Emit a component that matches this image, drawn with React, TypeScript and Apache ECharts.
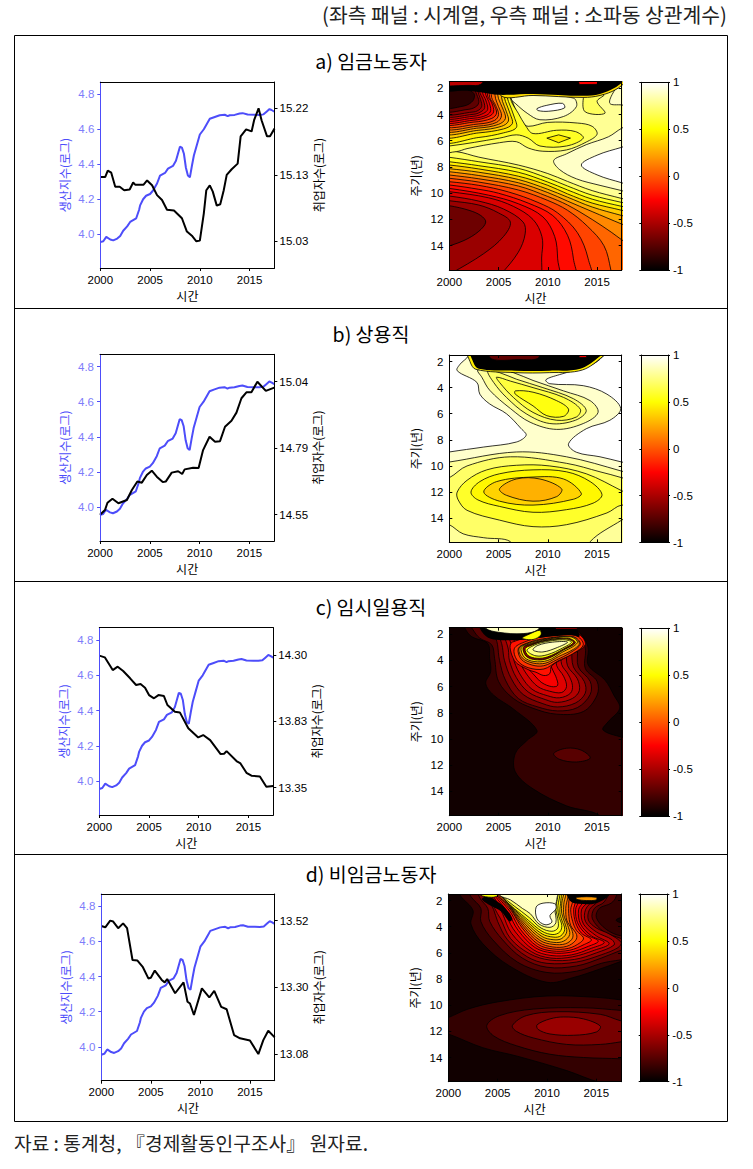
import React, { useEffect, useRef } from "react";
import * as echarts from "echarts";

type Pt = [number, number];
type Layer = [number, Pt[]];

const FONT = '"Liberation Sans","Noto Sans CJK KR",sans-serif';
const KR = '"Noto Sans CJK KR",sans-serif';

const outputPts: Pt[] = [[2000,3.955],[2000.3,3.96],[2000.6,3.985],[2001,3.97],[2001.3,3.965],[2001.7,3.975],[2002,3.99],[2002.3,4.02],[2002.7,4.045],[2003,4.07],[2003.3,4.08],[2003.6,4.09],[2003.9,4.14],[2004,4.165],[2004.3,4.2],[2004.6,4.22],[2005,4.23],[2005.3,4.25],[2005.7,4.29],[2006,4.335],[2006.5,4.35],[2006.8,4.375],[2007.3,4.39],[2007.6,4.42],[2007.8,4.46],[2008,4.5],[2008.2,4.495],[2008.4,4.46],[2008.6,4.38],[2008.8,4.335],[2009,4.325],[2009.2,4.39],[2009.4,4.45],[2009.7,4.51],[2010,4.57],[2010.4,4.6],[2010.8,4.64],[2011,4.66],[2011.5,4.67],[2012,4.68],[2012.5,4.683],[2012.8,4.675],[2013,4.68],[2013.5,4.682],[2014,4.69],[2014.3,4.692],[2014.8,4.684],[2015.5,4.683],[2016,4.682],[2016.4,4.685],[2016.7,4.7],[2017,4.715],[2017.2,4.71],[2017.5,4.7]];
const empA: Pt[] = [[2000,15.122],[2000.5,15.122],[2000.75,15.131],[2001.1,15.128],[2001.5,15.108],[2001.95,15.108],[2002.4,15.103],[2002.95,15.104],[2003.3,15.114],[2003.5,15.111],[2004.35,15.111],[2004.7,15.117],[2005.2,15.11],[2005.7,15.096],[2006.2,15.089],[2006.7,15.075],[2007.4,15.074],[2008.2,15.063],[2008.7,15.044],[2009.2,15.038],[2009.65,15.03],[2010,15.031],[2010.4,15.07],[2010.65,15.103],[2011,15.11],[2011.3,15.101],[2011.7,15.081],[2012.05,15.083],[2012.4,15.103],[2012.7,15.125],[2013.2,15.133],[2013.8,15.141],[2014.1,15.18],[2014.65,15.19],[2015.2,15.187],[2015.45,15.203],[2015.9,15.22],[2016.2,15.203],[2016.75,15.18],[2017.05,15.18],[2017.5,15.191]];
const empB: Pt[] = [[2000,14.55],[2000.5,14.567],[2000.75,14.594],[2001.25,14.609],[2001.85,14.592],[2002.7,14.604],[2003.2,14.641],[2003.75,14.672],[2004.2,14.668],[2004.7,14.696],[2005.2,14.712],[2005.7,14.69],[2006.3,14.67],[2006.6,14.672],[2007.2,14.705],[2007.85,14.71],[2008.25,14.7],[2008.5,14.717],[2009.35,14.723],[2009.9,14.722],[2010.35,14.788],[2011,14.837],[2011.55,14.819],[2012.05,14.821],[2012.55,14.874],[2013.2,14.896],[2013.7,14.926],[2014.2,14.979],[2014.7,15.001],[2015.2,15.001],[2015.8,15.04],[2016.65,15.006],[2017.5,15.018]];
const empC: Pt[] = [[2000,14.295],[2000.55,14.283],[2001.35,14.192],[2001.85,14.216],[2002.4,14.185],[2003.1,14.133],[2003.7,14.085],[2004.15,14.092],[2004.6,14.066],[2005,14.013],[2005.5,13.99],[2005.95,14.013],[2006.5,14.006],[2006.85,13.942],[2007.6,13.894],[2008.1,13.889],[2008.95,13.775],[2009.95,13.71],[2010.45,13.727],[2011.15,13.691],[2012.2,13.591],[2012.55,13.593],[2012.8,13.612],[2013.8,13.541],[2014.2,13.524],[2014.8,13.457],[2015.3,13.436],[2016.15,13.431],[2016.8,13.357],[2017.5,13.362]];
const empD: Pt[] = [[2000,13.502],[2000.4,13.498],[2000.9,13.52],[2001.2,13.517],[2001.7,13.495],[2002.2,13.511],[2002.6,13.495],[2003.15,13.39],[2003.65,13.388],[2004.2,13.366],[2004.75,13.329],[2005,13.331],[2005.4,13.355],[2006.1,13.324],[2006.4,13.316],[2006.65,13.327],[2007.45,13.28],[2008.3,13.316],[2008.7,13.252],[2008.95,13.246],[2009.35,13.208],[2010.15,13.296],[2010.9,13.266],[2011.4,13.288],[2012.1,13.235],[2012.65,13.227],[2013.4,13.142],[2014,13.131],[2015,13.124],[2015.85,13.079],[2016.35,13.125],[2016.85,13.156],[2017.5,13.134]];

const outputTicks = [4, 4.2, 4.4, 4.6, 4.8];
const yearTicks = [2000, 2005, 2010, 2015];
const periodTicks = [2, 4, 6, 8, 10, 12, 14];
const barTicks = [-1, -0.5, 0, 0.5, 1];
const empTicksA = [15.03, 15.125, 15.22]; const empLabelsA = ["15.03", "15.13", "15.22"];
const empTicksB = [14.55, 14.795, 15.04]; const empLabelsB = ["14.55", "14.79", "15.04"];
const empTicksC = [13.35, 13.825, 14.3]; const empLabelsC = ["13.35", "13.83", "14.30"];
const empTicksD = [13.08, 13.3, 13.52]; const empLabelsD = ["13.08", "13.30", "13.52"];

const all: Pt[] = [[1998,1],[2019,1],[2019,17],[1998,17]];

const contoursA: Layer[] = [
  [0.79, all],
  [0.89, [[2019,4.6],[2017.5,5.05],[2016.15,5.7],[2013.9,6.3],[2011.9,7],[2010.6,7.5],[2011.2,8.2],[2012.9,8.9],[2015.3,9.4],[2017.5,9.8],[2019,10.1]]],
  [1, [[2019,6.2],[2017.5,6.5],[2015,7.1],[2013.4,7.85],[2015,8.6],[2017.5,9.2],[2019,9.5]]],
  [0.89, [[2006.2,2.75],[2008.5,2.5],[2012.6,2.75],[2012.9,3.4],[2011.6,4.15],[2009.2,4.4],[2007.9,3.9],[2006.7,3.15]]],
  [1, [[2008.9,3.55],[2009.9,3.3],[2011.5,3.15],[2011.7,3.5],[2010.1,3.75],[2009,3.7]]],
  [0.89, [[2019,3.4],[2017.5,3.27],[2016.3,3.15],[2016.7,2.25],[2017.5,1.6],[2019,1.2]]],
  [0.68, [[2013.6,2.8],[2013.8,3.8],[2015.8,3.9],[2015,3],[2015.7,2.5],[2014,2.4]]],
  [0.68, [[1998,6.83],[2000.7,6.83],[2003,7.25],[2007,7.85],[2010,8.5],[2012,9.1],[2014.5,9.8],[2017.5,10.4],[2019,10.7],[2019,17],[1998,17]]],
  [0.56, [[1998,7.1],[2000,7.26],[2003,7.6],[2007,8.1],[2010,8.85],[2012,9.45],[2014.5,10.15],[2017.5,10.7],[2019,10.95],[2019,17],[1998,17]]],
  [0.45, [[1998,7.45],[2000,7.6],[2003,7.9],[2007,8.4],[2010,9.15],[2012,9.75],[2014.5,10.45],[2017.5,11],[2019,11.25],[2019,17],[1998,17]]],
  [0.35, [[1998,7.75],[2000,7.85],[2003,8.15],[2007,8.7],[2010,9.4],[2012,10.05],[2014.5,10.75],[2017.5,11.3],[2019,11.6],[2019,17],[1998,17]]],
  [0.25, [[1998,8],[2000,8.13],[2003,8.4],[2007,8.95],[2010,9.7],[2012,10.3],[2014.5,11.05],[2017.5,11.7],[2019,12],[2019,17],[1998,17]]],
  [0.15, [[1998,8.2],[2000,8.36],[2003,8.65],[2007,9.2],[2010,9.95],[2012,10.6],[2014.5,11.4],[2017.5,12.35],[2019,12.8],[2019,17],[1998,17]]],
  [0.05, [[1998,8.45],[2000,8.61],[2003,8.9],[2007,9.45],[2010,10.25],[2012,10.9],[2014.5,12],[2016.5,13],[2017.5,13.55],[2019,14.3],[2019,17],[1998,17]]],
  [-0.05, [[1998,8.7],[2000,8.86],[2003,9.15],[2007,9.75],[2010,10.55],[2012,11.3],[2014,12.5],[2015.7,14],[2016.4,15.85],[2016.6,17],[1998,17]]],
  [-0.15, [[1998,9],[2000,9.12],[2003,9.4],[2006,9.9],[2009,10.7],[2011,11.5],[2013,13],[2014.1,15],[2014.3,17],[1998,17]]],
  [-0.22, [[1998,9.25],[2000,9.37],[2003,9.7],[2005,10],[2008,10.75],[2010.5,11.7],[2012,13.2],[2012.6,15],[2012.7,17],[1998,17]]],
  [-0.3, [[1998,9.5],[2000,9.63],[2004,10.15],[2007,10.8],[2009.5,11.8],[2010.7,13.3],[2011,15],[2011,17],[1998,17]]],
  [-0.36, [[1998,9.75],[2000,9.88],[2004,10.35],[2006.5,11],[2008.5,12],[2009.4,13.3],[2009.4,14.6],[2008.8,17],[1998,17]]],
  [-0.45, [[1998,10.05],[2000,10.21],[2003,10.6],[2005.5,11.2],[2007.5,12.2],[2007.7,13.1],[2007,14.5],[2005.2,16.2],[2004,17],[1998,17]]],
  [-0.55, [[1998,10.4],[2000,10.57],[2003,10.9],[2005,11.5],[2006.2,12.2],[2005.5,13.3],[2003.5,14.6],[2000.2,16.1],[1998,17]]],
  [-0.68, [[1998,10.8],[2000,10.95],[2002,11.3],[2003.2,11.7],[2003.7,12.2],[2003,12.9],[2001.5,13.6],[1999,14.3],[1998,14.8]]],
  [0.68, [[1998,6.83],[2000.7,6.83],[2001.8,6.6],[2005.1,6.15],[2006.8,6.07],[2008,6.55],[2009.5,6.8],[2011.9,6.7],[2013.9,6.1],[2015,5.5],[2014.5,4.9],[2013,4.65],[2010,4.6],[2008,4.9],[2007.3,4.5],[2006.5,3.2],[2006,2.3],[2005,1],[1998,1]]],
  [0.57, [[1998,6.45],[2000,6.4],[2005.1,5.8],[2006.8,5.55],[2008,5.8],[2009.2,6.4],[2011.9,6.4],[2013.6,5.8],[2012.8,5.3],[2010.9,5.2],[2008.5,5.45],[2007.7,4.8],[2007,3.9],[2006.3,3],[2005.5,1],[1998,1]]],
  [0.45, [[2009.9,5.8],[2011.1,5.55],[2012.3,5.8],[2011.1,6.15]]],
  [0.45, [[1999,5.95],[2003,5.75],[2005.5,5.4],[2006.8,5],[2006.6,4.2],[2006,3],[2005,1],[1998,1]]],
  [0.35, [[1999,5.56],[2003,5.4],[2005.5,5.1],[2006.4,4.7],[2006.2,4],[2005.7,3],[2004.8,1],[1998,1]]],
  [0.25, [[1999,5.3],[2003,5.2],[2005.3,4.9],[2006,4.5],[2005.8,3.8],[2005.4,3],[2004.6,1],[1998,1]]],
  [0.15, [[1999,5.1],[2003,5.03],[2005,4.75],[2005.7,4.3],[2005.4,3.5],[2005,2.8],[2004.4,1],[1998,1]]],
  [0.05, [[1999,4.92],[2003,4.88],[2004.8,4.6],[2005.3,4.1],[2005,3.4],[2004.7,2.8],[2004.2,1],[1998,1]]],
  [-0.05, [[1999,4.75],[2003,4.72],[2004.6,4.45],[2005,4],[2004.7,3.3],[2004.3,2.7],[2004,1],[1998,1]]],
  [-0.15, [[1999,4.6],[2002.5,4.58],[2004.3,4.3],[2004.8,3.9],[2004.5,3.2],[2004.1,2.7],[2003.8,1],[1998,1]]],
  [-0.25, [[1999,4.45],[2002.5,4.43],[2004,4.15],[2004.5,3.8],[2004.3,3.1],[2003.9,2.6],[2003.6,1],[1998,1]]],
  [-0.32, [[1999,4.3],[2002.5,4.28],[2003.8,4.05],[2004.2,3.7],[2004,3],[2003.7,2.5],[2003.4,1],[1998,1]]],
  [-0.4, [[1999,4.15],[2002.5,4.13],[2003.5,3.9],[2003.9,3.6],[2003.7,2.9],[2003.4,2.4],[2003.2,1],[1998,1]]],
  [-0.5, [[1999,4],[2002.5,3.98],[2003.3,3.75],[2003.6,3.45],[2003.4,2.8],[2003.1,2.3],[2003,1],[1998,1]]],
  [-0.6, [[1999,3.85],[2002.5,3.8],[2003.1,3.6],[2003.3,3.3],[2003.1,2.7],[2002.9,2.2],[2002.8,1],[1998,1]]],
  [-0.72, [[1999,3.65],[2002,3.6],[2002.8,3.35],[2003,3],[2002.8,2.5],[2002.6,2.1],[2002.5,1],[1998,1]]],
  [-0.88, [[1999,3.45],[2001.5,3.35],[2002.4,2.95],[2002.5,2.4],[2001.5,2],[1999,2]]],
  [0.4, [[2005.3,1],[2005.3,2.6],[2008.5,2.55],[2013.6,2.7],[2015.3,2.55],[2016.9,2.1],[2018,1.4],[2018,1]]],
  [-1, [[1998,2.15],[2002,2.2],[2003.2,2.3],[2005,2.5],[2008.5,2.43],[2013.6,2.58],[2015.3,2.43],[2016.7,2],[2017.6,1.5],[2018,1],[1998,1]]],
  [-0.45, [[1998,1],[1998,1.72],[2002,1.78],[2003.2,1.7],[2003.6,1]]],
  [-0.25, [[2012.9,1],[2013.2,1.72],[2015,1.7],[2015.3,1]]],
];

const contoursB: Layer[] = [
  [1, all],
  [0.9, [[1998,9.2],[2000,8.93],[2003.5,8.55],[2006.8,8.17],[2007.8,7.65],[2007.3,7.15],[2005.8,6],[2004.1,5.25],[2003.1,4.5],[2002.8,3.6],[2000.8,2.7],[2001.1,2.2],[2001.9,1.6],[2002,1],[2015.8,1],[2015.6,1.6],[2014.3,2.3],[2011.2,3],[2009.8,3.4],[2010.2,3.7],[2013.6,3.85],[2016,4.5],[2017.4,5.6],[2016.3,6.5],[2013.9,7.15],[2012.1,8.3],[2012.9,8.95],[2015.3,9.3],[2017.5,9.7],[2019,10],[2019,17],[1998,17]]],
  [0.8, [[1998,9.9],[2000,9.7],[2006.8,8.93],[2011.9,9.3],[2017.5,10.4],[2019,10.8],[2019,17],[1998,17]]],
  [0.7, [[1998,11.4],[2000,10.9],[2001.8,10],[2006.2,9.3],[2011.9,9.8],[2015.3,10.45],[2017.5,10.9],[2019,11.3],[2019,13.5],[2017.5,14.15],[2014.3,15.8],[2014,17],[2006.4,17],[2006.2,15.8],[2003.5,15.5],[2001.4,15.2],[2000,14.5],[1998,14]]],
  [0.58, [[2000.8,12],[2001.8,11.1],[2003.8,10.3],[2006.8,9.95],[2010.2,10],[2013.9,10.6],[2017.5,11.9],[2019,12.5],[2019,13.3],[2017.5,13],[2016,13.6],[2011.9,14.5],[2008.5,14.65],[2005.1,14.15],[2001.8,13.4],[2000.9,12.6]]],
  [0.48, [[2002.2,12],[2003.1,11.2],[2005.1,10.6],[2008.5,10.3],[2011.9,10.45],[2014.3,11.2],[2015.5,12.2],[2014.6,12.85],[2011.9,13.35],[2008.5,13.55],[2005.1,13.1],[2002.9,12.6]]],
  [0.37, [[2003.5,12],[2004.8,11.2],[2008.5,10.85],[2011.6,11],[2013.4,12.1],[2012.6,12.55],[2008.5,13],[2005.1,12.7]]],
  [0.27, [[2005.1,11.75],[2006.8,11],[2009.2,11],[2011.4,11.75],[2010.9,12.35],[2008.5,12.7],[2005.8,12.25]]],
  [0.8, [[2002.9,2.65],[2003.3,3.2],[2004.1,4.2],[2006.2,5.6],[2008.2,6.65],[2010.9,7.2],[2013.6,6.75],[2015.1,5.9],[2014.3,5],[2011.6,4.25],[2008.5,3.45],[2006.5,2.85],[2004.8,2.55]]],
  [0.7, [[2003.9,2.7],[2004.5,3.6],[2005.8,4.75],[2007.8,6],[2010.2,6.75],[2012.8,6.5],[2013.9,5.75],[2012.6,4.85],[2009.5,4],[2006.8,3.35],[2005.1,2.85]]],
  [0.62, [[2004.8,3.2],[2005.1,3.6],[2006.5,4.75],[2008.5,5.9],[2010.9,6.5],[2012.9,6.25],[2013.3,5.65],[2011.6,4.75],[2008.5,4],[2006.2,3.5]]],
  [0.53, [[2006.7,4.25],[2006.7,4.5],[2008.5,5.4],[2009.9,6.15],[2011.6,6.2],[2012.1,5.65],[2010.9,5],[2008.5,4.35]]],
  [0.45, [[2001.9,1],[2002.1,2],[2002.7,2.6],[2006.7,2.85],[2010.2,2.85],[2013.5,2.65],[2015.6,1.6],[2016.2,1]]],
  [-1, [[2002.2,1],[2002.4,2],[2003,2.55],[2006.7,2.7],[2010.2,2.7],[2013.3,2.55],[2015.3,1.6],[2016,1]]],
  [-0.72, [[2004,1],[2004.3,1.8],[2007,1.85],[2009,1.75],[2009,1]]],
  [-0.3, [[2013,1],[2013.2,1.7],[2013.9,1.7],[2014.2,1]]],
];

const contoursC: Layer[] = [
  [-0.95, all],
  [-0.85, [[2001.5,1],[2001.6,1.55],[2002.3,2.2],[2003.9,2.7],[2004.1,3.85],[2004.2,4.85],[2003.7,5.75],[2004.5,6.65],[2006.5,7.7],[2008.9,9.35],[2007.9,10.1],[2006.7,11.1],[2006.7,12.5],[2008.5,13.8],[2011.9,15.1],[2015.3,15.85],[2015.5,17],[2019,17],[2019,10],[2017.5,9.85],[2015.6,9.3],[2016.1,8.7],[2017.3,7.65],[2016.7,6.65],[2015.8,5.5],[2014.1,4.35],[2014.1,3.05],[2013.6,2.2],[2012.9,1.55],[2012.8,1]]],
  [-0.74, [[2010.6,11.1],[2011.9,10.7],[2013.4,10.85],[2014.3,11.45],[2012.9,11.75],[2011.2,11.55]]],
  [-0.75, [[2002,1],[2002.4,1.65],[2003.1,2.3],[2004.3,2.8],[2004.6,3.85],[2005,5.6],[2006.5,6.9],[2008.5,7.65],[2010.9,8.1],[2013.6,7.9],[2015,6.65],[2015,5.6],[2013.8,4.6],[2013.8,3.05],[2013.1,2.05],[2011.9,1.55],[2012,1]]],
  [-0.65, [[2004.5,1],[2004.9,2.8],[2005.1,4],[2005.7,5.5],[2007,6.9],[2009,7.55],[2011,7.85],[2013,7.6],[2014.3,6.6],[2014.3,5.6],[2013.1,4.5],[2013,3.1],[2012.7,2],[2012.5,1]]],
  [-0.55, [[2005,1],[2005.4,3],[2005.6,4],[2006.3,5.4],[2007.5,6.6],[2009.5,7.3],[2011,7.55],[2012.8,7.25],[2013.8,6.5],[2013.7,5.6],[2012.6,4.5],[2012.4,3.1],[2012,1]]],
  [-0.47, [[2005.5,1],[2006,3.2],[2006.1,4],[2006.8,5.3],[2008,6.4],[2009.8,7],[2011,7.2],[2012.5,6.9],[2013.2,6.3],[2013,5.4],[2012,4.4],[2011.9,3.2],[2011.8,1]]],
  [-0.4, [[2006,1],[2006.5,3.4],[2006.6,4.1],[2007.3,5.2],[2008.4,6.2],[2010,6.7],[2011.2,6.85],[2012.3,6.5],[2012.5,5.9],[2012.1,5.1],[2011.4,4.3],[2011.4,3.4],[2011.4,1]]],
  [-0.34, [[2006.5,1],[2007,3.6],[2007.2,4.2],[2008,5.2],[2009,6],[2010.2,6.35],[2011.4,6.45],[2011.9,6],[2011.6,5.2],[2010.9,4.4],[2010.9,3.6],[2011,1]]],
  [-0.27, [[2007,1],[2007.5,3.7],[2007.8,4.4],[2008.6,5.1],[2009.4,5.7],[2010.4,6],[2011,5.9],[2010.8,5.2],[2010.3,4.4],[2010.2,3.7],[2010,1]]],
  [-0.2, [[2006.4,2.6],[2006.6,4],[2008,4.7],[2008.8,4.9],[2009.6,5.15],[2010.2,5],[2010.4,4.4],[2012,3.7],[2013.8,2.8],[2013,2]]],
  [-0.1, [[2006.6,3.1],[2006.9,4],[2008,4.55],[2009.6,4.65],[2011,4.05],[2012.5,3.5],[2013.6,2.8],[2012.8,2.1],[2009.5,2.2],[2007.6,2.6]]],
  [0.05, [[2007,3.1],[2007.3,3.9],[2008.4,4.35],[2009.6,4.4],[2010.9,3.95],[2012.3,3.4],[2013.3,2.75],[2012.6,2.2],[2009.5,2.35],[2007.8,2.7]]],
  [0.2, [[2007.1,3.05],[2007.4,3.8],[2008.5,4.2],[2009.8,4.2],[2011.1,3.7],[2012.6,3.15],[2013.2,2.7],[2012.5,2.2],[2009.5,2.4],[2008,2.7]]],
  [0.4, [[2007.3,3],[2007.6,3.75],[2008.6,4.08],[2010,4],[2011.4,3.4],[2013,2.65],[2012.3,2.2],[2009.5,2.45],[2008.1,2.75]]],
  [-0.6, [[2007.5,3],[2007.8,3.68],[2008.8,3.95],[2010,3.85],[2011.6,3.2],[2012.8,2.65],[2012,2.3],[2009.5,2.5],[2008.2,2.78]]],
  [0.5, [[2007.7,3.1],[2008,3.62],[2008.9,3.83],[2010,3.72],[2011.6,3.12],[2012.6,2.62],[2011.8,2.35],[2009.5,2.55],[2008.3,2.85]]],
  [0.75, [[2007.9,3.25],[2008.8,3.65],[2010,3.55],[2011.5,3.05],[2012.4,2.6],[2011.5,2.42],[2009.5,2.62],[2008.4,2.92]]],
  [0.88, [[2008.5,3.2],[2009.5,3.35],[2011,3],[2012,2.6],[2010.5,2.6],[2009,2.85]]],
  [-1, [[2003,1],[2003.3,1.8],[2004.2,2.35],[2006,2.45],[2008,2.4],[2010,2.2],[2012.5,2.05],[2013.2,2.2],[2012.8,1.5],[2010,1]]],
  [0.88, [[2003.6,1],[2003.7,1.55],[2005,1.85],[2007.5,1.95],[2009,1.65],[2009.2,1]]],
  [0.5, [[2007.4,2.3],[2008.5,2.4],[2009.3,2.05],[2009.2,1.7],[2008.1,2]]],
  [-0.4, [[2010.5,1],[2010.8,1.6],[2013,1.6],[2013,1]]],
];

const contoursD: Layer[] = [
  [-0.95, all],
  [-0.85, [[2001,1],[2001.2,1.6],[2002.5,2.75],[2002.3,3.8],[2003.5,5.3],[2006.2,7],[2010,8.25],[2012.6,7.9],[2015.3,7.25],[2017.5,6.65],[2019,6.2],[2019,1]]],
  [-0.95, [[2017,3.5],[2017.5,3.3],[2019,3.2],[2019,3.8],[2017.5,3.7]]],
  [-0.75, [[2002,1],[2002.3,1.7],[2003.3,2.6],[2003.3,3.6],[2004.5,5],[2007,6.7],[2010,7.5],[2013,7.4],[2015.5,6.8],[2019,6.1],[2019,4.6],[2017.5,4.7],[2016,4.2],[2015,3.3],[2015.3,2.6],[2016.5,2.2],[2017,1.7],[2017,1]]],
  [-0.65, [[2003,1],[2003.2,1.8],[2004,2.6],[2004.2,3.6],[2005.5,5],[2007.5,6.4],[2010,7.1],[2013,7],[2015.5,6.4],[2017.5,5.8],[2019,5.4],[2017.5,4.9],[2015.8,4.4],[2014.6,3.4],[2014.8,2.6],[2015.8,2.1],[2016.3,1]]],
  [-0.55, [[2003.5,1],[2004,1.8],[2004.6,2.7],[2005,3.6],[2006,5],[2008,6.3],[2010,6.8],[2013,6.7],[2015.5,6.15],[2017.2,5.6],[2017.5,5.2],[2016.3,4.55],[2015,4.1],[2014.2,3.5],[2014.3,2.7],[2015.2,2],[2015.5,1]]],
  [-0.45, [[2004,1],[2004.7,2.6],[2005.3,3.4],[2006.3,4.9],[2008.2,6.05],[2010.3,6.55],[2012.8,6.5],[2015,6],[2016.8,5.4],[2016.6,5],[2015,4.4],[2013.9,3.6],[2013.9,2.7],[2014.7,1.9],[2015,1]]],
  [-0.38, [[2004.3,1],[2005.5,3],[2006.4,4.5],[2008.4,5.9],[2010.4,6.4],[2012.6,6.3],[2014.8,5.8],[2016.3,5.3],[2015,4.7],[2013.7,3.8],[2013.5,2.7],[2014.2,2],[2014,1]]],
  [-0.3, [[2004.5,1],[2005.9,3.2],[2006.8,4.4],[2008.6,5.75],[2010.4,6.2],[2012.5,6.15],[2014.5,5.65],[2015.8,5.2],[2014.5,4.7],[2013.4,3.8],[2013.2,2.7],[2013.7,2],[2013.5,1]]],
  [-0.24, [[2004.6,1],[2006.2,3.1],[2007.1,4.3],[2008.8,5.6],[2010.5,6],[2012.4,5.95],[2014.2,5.5],[2015.2,5.1],[2014,4.6],[2013.1,3.7],[2012.9,2.7],[2013.2,2],[2013,1]]],
  [-0.15, [[2004.7,1],[2006.4,3],[2007.3,4.2],[2009,5.5],[2010.5,5.85],[2012.3,5.8],[2013.8,5.35],[2014.5,5],[2013.5,4.5],[2012.9,3.7],[2012.7,2.7],[2012.9,2],[2012.7,1]]],
  [-0.05, [[2004.8,1],[2006.5,2.9],[2007.5,4.1],[2009.1,5.35],[2010.6,5.7],[2012.2,5.65],[2013.4,5.2],[2013.7,4.85],[2013,4.3],[2012.6,3.6],[2012.4,2.7],[2012.6,2],[2012.4,1]]],
  [0.05, [[2004.9,1],[2006.4,2.7],[2007.6,4],[2009.2,5.2],[2010.6,5.55],[2012,5.5],[2012.9,5.05],[2013,4.6],[2012.4,3.9],[2012.2,3],[2012.2,2.2],[2012.2,1]]],
  [0.15, [[2005,1],[2006.2,2.4],[2007.7,3.9],[2009.3,5.05],[2010.6,5.35],[2011.9,5.3],[2012.6,4.85],[2012.5,4.2],[2012,3.5],[2011.9,2.6],[2012,1]]],
  [0.25, [[2005,1],[2006,2.2],[2007.8,3.8],[2009.4,4.9],[2010.7,5.2],[2011.7,5.1],[2012.3,4.6],[2012.1,3.9],[2011.7,3.1],[2011.7,2.3],[2011.8,1]]],
  [0.35, [[2005,1],[2005.8,2],[2007.9,3.7],[2009.5,4.75],[2010.7,5],[2011.5,4.9],[2012,4.4],[2011.8,3.7],[2011.5,3],[2011.5,2.2],[2011.6,1]]],
  [0.45, [[2005,1],[2005.7,1.9],[2008,3.6],[2009.5,4.55],[2010.7,4.8],[2011.4,4.7],[2011.8,4.2],[2011.5,3.5],[2011.3,2.9],[2011.4,2],[2011.4,1]]],
  [0.55, [[2005,1],[2005.4,1.7],[2008.1,3.5],[2009.5,4.35],[2010.6,4.6],[2011.3,4.4],[2011.5,3.9],[2011.2,3.2],[2011.1,2.6],[2011.1,1]]],
  [0.7, [[2005,1],[2005.2,1.5],[2008.2,3.3],[2009.4,4.1],[2010.5,4.35],[2011.1,4.1],[2011.1,3.4],[2010.9,2.7],[2010.9,1]]],
  [0.88, [[2005,1],[2005.2,1.6],[2006.3,1.95],[2007.5,2.6],[2008.3,3],[2009.2,3.8],[2010.3,4.05],[2010.9,3.7],[2010.8,2.6],[2011,1.9],[2011,1]]],
  [1, [[2008.9,2.5],[2009.6,2.2],[2010.8,2.25],[2010.9,2.65],[2010.3,3.15],[2010.5,3.65],[2009.8,3.85],[2009,3.4]]],
  [-1, [[2003.4,1.9],[2004.3,2.4],[2005.3,2.8],[2006.2,3.6],[2006.5,3.4],[2005.8,2.6],[2005,2.1],[2004,1.7]]],
  [0.5, [[2003,1],[2003.2,1.55],[2004.4,1.75],[2005,1.6],[2005,1]]],
  [-1, [[2012,1],[2012.3,2],[2013.2,2.25],[2015,2.2],[2016.3,1.6],[2016.3,1]]],
  [0.2, [[2013,1.9],[2014,2],[2015,1.95],[2015,1.75],[2013,1.75]]],
  [-0.85, [[1998,11.5],[2000,10.95],[2002,10.3],[2005,9.75],[2010,9.3],[2015,9.4],[2017.5,9.6],[2019,9.8],[2019,16.2],[2015.4,15.9],[2012,15],[2007,13.9],[2003.5,13.25],[2000,12.2],[1998,11.8]]],
  [-0.75, [[2003.9,11.55],[2005.2,10.8],[2008.6,10.3],[2013.7,10.2],[2017.5,10.4],[2019,10.5],[2019,14.2],[2017.5,14.1],[2013.7,14],[2010.3,13.75],[2006.9,13.1],[2004.6,12.35]]],
  [-0.65, [[2006.5,11.55],[2007.9,10.8],[2011,10.5],[2015.4,10.7],[2017.5,11.2],[2019,11.4],[2019,12.6],[2017.5,12.8],[2015.4,13],[2012,13],[2008.6,12.5],[2006.9,12]]],
  [-0.55, [[2009,11.5],[2010.3,11.05],[2011.7,10.9],[2013.7,11.05],[2015.4,11.6],[2015,12.05],[2012.7,12.3],[2010.3,12.2],[2009.1,11.85]]],
];

function hot(v: number): string {
  const t = (Math.max(-1, Math.min(1, v)) + 1) / 2;
  const r = Math.min(1, t / 0.375);
  const g = Math.max(0, Math.min(1, (t - 0.375) / 0.375));
  const b = Math.max(0, (t - 0.75) / 0.25);
  return `rgb(${Math.round(r * 255)},${Math.round(g * 255)},${Math.round(b * 255)})`;
}

const titles = ["a) 임금노동자", "b) 상용직", "c) 임시일용직", "d) 비임금노동자"];
const titleY = [60, 333, 606, 873];
const BLUE = "#4d4dfa";
const PERI = "#7d7dfa";

function buildOption() {
  const grid: any[] = [], xAxis: any[] = [], yAxis: any[] = [], series: any[] = [];
  const textBase = { color: "#000", fontFamily: FONT, fontSize: 11.5 };
  const nameBase = { color: "#000", fontFamily: KR, fontSize: 12 };

  const addX = (g: number, pos: string, extra: any) => {
    xAxis.push({ gridIndex: g, type: "value", position: pos, min: 2000, max: 2017.5, z: 5, splitLine: { show: false }, axisLine: { show: true, onZero: false, lineStyle: { color: "#000", width: 1 } }, ...extra });
    return xAxis.length - 1;
  };
  const addY = (g: number, pos: string, extra: any) => {
    yAxis.push({ gridIndex: g, type: "value", position: pos, z: 5, splitLine: { show: false }, axisLine: { show: true, onZero: false, lineStyle: { color: "#000", width: 1 } }, ...extra });
    return yAxis.length - 1;
  };
  const yearAxis = (tickIn: boolean) => ({
    name: "시간", nameLocation: "middle", nameGap: 21, nameTextStyle: nameBase,
    axisTick: { show: true, inside: tickIn, length: 3, customValues: yearTicks, lineStyle: { color: "#000" } },
    axisLabel: { show: true, customValues: yearTicks, formatter: (v: number) => String(v), margin: 6, ...textBase },
  });
  const topAxis = (tickIn: boolean) => ({
    axisTick: { show: tickIn, inside: true, length: 3, customValues: yearTicks, lineStyle: { color: "#000" } },
    axisLabel: { show: false },
  });

  const addLine = (left: number, right: number, top: number, bottom: number, rMin: number, rMax: number, ticks: number[], labels: string[], emp: Pt[]) => {
    const g = grid.length;
    grid.push({ left, top, width: right - left, height: bottom - top, containLabel: false });
    const x = addX(g, "bottom", yearAxis(false));
    addX(g, "top", topAxis(false));
    const yl = addY(g, "left", {
      min: 3.807, max: 4.87,
      axisLine: { show: true, onZero: false, lineStyle: { color: BLUE, width: 1 } },
      name: "생산지수(로그)", nameLocation: "middle", nameGap: 30, nameRotate: 90, nameTextStyle: { color: BLUE, fontFamily: KR, fontSize: 12 },
      axisTick: { show: true, length: 3, customValues: outputTicks, lineStyle: { color: BLUE } },
      axisLabel: { show: true, customValues: outputTicks, formatter: (v: number) => v.toFixed(1), margin: 6, color: PERI, fontFamily: FONT, fontSize: 11.5 },
    });
    const yr = addY(g, "right", {
      min: rMin, max: rMax,
      name: "취업자수(로그)", nameLocation: "middle", nameGap: 36, nameRotate: 90, nameTextStyle: nameBase,
      axisTick: { show: true, length: 3, customValues: ticks, lineStyle: { color: "#000" } },
      axisLabel: { show: true, customValues: ticks, formatter: (v: number) => labels[ticks.indexOf(v)] ?? "", margin: 5, ...textBase },
    });
    series.push({ type: "line", xAxisIndex: x, yAxisIndex: yl, data: outputPts, showSymbol: false, symbol: "none", lineStyle: { color: BLUE, width: 2 }, z: 3 });
    series.push({ type: "line", xAxisIndex: x, yAxisIndex: yr, data: emp, showSymbol: false, symbol: "none", lineStyle: { color: "#000", width: 2 }, z: 4 });
  };

  const addHeat = (left: number, right: number, top: number, bottom: number, layers: Layer[]) => {
    const g = grid.length;
    grid.push({ left, top, width: right - left, height: bottom - top, containLabel: false });
    const x = addX(g, "bottom", yearAxis(true));
    addX(g, "top", topAxis(true));
    const y = addY(g, "left", {
      min: 1.5, max: 15.85, inverse: true,
      name: "주기(년)", nameLocation: "middle", nameGap: 28, nameRotate: 90, nameTextStyle: nameBase,
      axisTick: { show: true, inside: true, length: 3, customValues: periodTicks, lineStyle: { color: "#000" } },
      axisLabel: { show: true, customValues: periodTicks, formatter: (v: number) => String(v), margin: 6, ...textBase },
    });
    addY(g, "right", {
      min: 1.5, max: 15.85, inverse: true,
      axisTick: { show: true, inside: true, length: 3, customValues: periodTicks, lineStyle: { color: "#000" } },
      axisLabel: { show: false },
    });
    series.push({
      type: "custom", xAxisIndex: x, yAxisIndex: y, clip: true, silent: true, z: 2,
      data: layers.map(() => [2000, 8]),
      renderItem: (params: any, api: any) => {
        const l = layers[params.dataIndex];
        return {
          type: "polygon",
          shape: { points: l[1].map((p) => api.coord(p)), smooth: l[1].length > 4 ? 0.35 : 0 },
          style: { fill: hot(l[0]), stroke: l[0] === -1 ? "none" : "#000", lineWidth: 0.8 },
        };
      },
    });
  };

  const addBar = (left: number, right: number, top: number, bottom: number) => {
    const g = grid.length;
    grid.push({ left, top, width: right - left, height: bottom - top, containLabel: false });
    const x = xAxis.length;
    xAxis.push({ gridIndex: g, type: "value", min: 0, max: 1, position: "bottom", z: 5, splitLine: { show: false }, axisTick: { show: false }, axisLabel: { show: false }, axisLine: { show: true, onZero: false, lineStyle: { color: "#000" } } });
    xAxis.push({ gridIndex: g, type: "value", min: 0, max: 1, position: "top", z: 5, splitLine: { show: false }, axisTick: { show: false }, axisLabel: { show: false }, axisLine: { show: true, onZero: false, lineStyle: { color: "#000" } } });
    const y = addY(g, "right", {
      min: -1, max: 1,
      axisTick: { show: true, length: 2, customValues: barTicks, lineStyle: { color: "#000" } },
      axisLabel: { show: true, customValues: barTicks, formatter: (v: number) => String(v), margin: 5, ...textBase },
    });
    addY(g, "left", {
      min: -1, max: 1,
      axisTick: { show: true, length: 2, customValues: barTicks, lineStyle: { color: "#000" } },
      axisLabel: { show: false },
    });
    series.push({
      type: "custom", xAxisIndex: x, yAxisIndex: y, silent: true, z: 2,
      data: [[0, -1]],
      renderItem: (_: any, api: any) => {
        const a = api.coord([0, 1]);
        const b = api.coord([1, -1]);
        return {
          type: "rect",
          shape: { x: a[0], y: a[1], width: b[0] - a[0], height: b[1] - a[1] },
          style: {
            fill: new echarts.graphic.LinearGradient(0, 0, 0, 1, [
              { offset: 0, color: "#ffffff" },
              { offset: 0.25, color: "#ffff00" },
              { offset: 0.625, color: "#ff0000" },
              { offset: 1, color: "#000000" },
            ]),
          },
        };
      },
    });
  };

  addLine(100.3, 274.5, 82, 268, 14.9919, 15.2576, empTicksA, empLabelsA, empA);
  addHeat(449.3, 621.7, 81.7, 270, contoursA);
  addBar(641.3, 668, 82.3, 270);

  addLine(100, 274.3, 354.3, 541, 14.453, 15.141, empTicksB, empLabelsB, empB);
  addHeat(449.3, 621.7, 355, 542.3, contoursB);
  addBar(641.3, 668, 355, 542.5);

  addLine(99.3, 273.3, 627.7, 815, 13.155, 14.495, empTicksC, empLabelsC, empC);
  addHeat(449.3, 621.7, 627.7, 815.7, contoursC);
  addBar(641.3, 668, 628.3, 816);

  addLine(101.3, 274.7, 894, 1080.7, 12.991, 13.608, empTicksD, empLabelsD, empD);
  addHeat(448.3, 621, 894, 1081.7, contoursD);
  addBar(640.7, 667.3, 894, 1081.7);

  const graphic: any[] = [
    { type: "rect", shape: { x: 14.5, y: 35.5, width: 713, height: 1086 }, style: { fill: "none", stroke: "#000", lineWidth: 1 } },
    ...[308.5, 581.5, 854.5].map((y) => ({ type: "line", shape: { x1: 14.5, y1: y, x2: 727.5, y2: y }, style: { stroke: "#000", lineWidth: 1 } })),
    { type: "text", x: 727, y: 14, style: { text: "(좌측 패널 : 시계열, 우측 패널 : 소파동 상관계수)", align: "right", verticalAlign: "middle", fontFamily: KR, fontSize: 20.4, fill: "#222" } },
    { type: "text", x: 14, y: 1143, style: { text: "자료 : 통계청, 『경제활동인구조사』 원자료.", align: "left", verticalAlign: "middle", fontFamily: KR, fontSize: 19.2, fill: "#222" } },
    ...titles.map((t, i) => ({ type: "text", x: 371, y: titleY[i], style: { text: t, align: "center", verticalAlign: "middle", fontFamily: KR, fontSize: 19.5, fill: "#000" } })),
  ];

  return { animation: false, backgroundColor: "#fff", grid, xAxis, yAxis, series, graphic };
}

export default function App() {
  const ref = useRef<HTMLDivElement>(null);
  useEffect(() => {
    const chart = echarts.init(ref.current!, undefined, { renderer: "svg" });
    chart.setOption(buildOption() as any);
    return () => chart.dispose();
  }, []);
  return <div ref={ref} style={{ position: "absolute", left: 0, top: 0, width: 753, height: 1169 }} />;
}
